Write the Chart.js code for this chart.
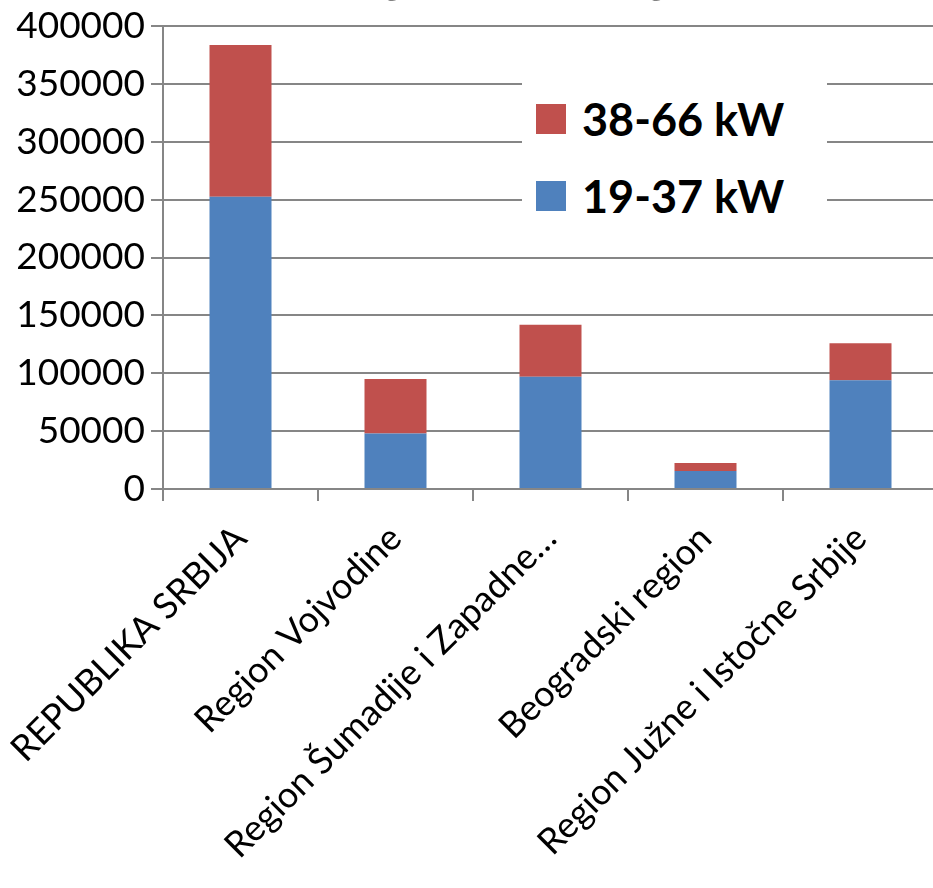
<!DOCTYPE html>
<html>
<head>
<meta charset="utf-8">
<script src="https://cdn.jsdelivr.net/npm/chart.js@4.4.0/dist/chart.umd.min.js"></script>
<style>
  html, body { margin: 0; padding: 0; background: #fff; overflow: hidden; }
  #wrap { position: absolute; left: 0; top: 0; width: 938px; height: 888px; }
  #title {
    position: absolute; left: 0; width: 938px; top: -53px; text-align: center;
    font: bold 46px Lato, sans-serif; color: #000; white-space: nowrap;
  }
  #legend {
    position: absolute; left: 522px; top: 68px; width: 305px; height: 155px;
    background: #fff; font: bold 45px Lato, sans-serif; color: #000;
  }
  .item { position: absolute; left: 14px; height: 44px; display: flex; align-items: center; }
  .box { width: 30px; height: 30px; margin-right: 16px; }
</style>
</head>
<body>
<div id="wrap">
  <canvas id="chart" width="938" height="888"></canvas>
  <div id="title">Holdings by kW range</div>
  <div id="legend"></div>
</div>
<script>
const categories = [
  "REPUBLIKA SRBIJA",
  "Region Vojvodine",
  "Region Šumadije i Zapadne…",
  "Beogradski region",
  "Region Južne i Istočne Srbije"
];
const small = [252500, 48000, 97000, 15500, 94000];   // 19-37 kW
const large = [131000, 47000, 45000, 7000, 32000];    // 38-66 kW
const yTicks = [0, 50000, 100000, 150000, 200000, 250000, 300000, 350000, 400000];

const gray = "#868686";
const font = { family: "Lato, sans-serif", size: 37 };

const chart = new Chart(document.getElementById("chart"), {
  type: "bar",
  data: {
    labels: categories,
    datasets: [
      { label: "19-37 kW", data: small, backgroundColor: "#4F81BD" },
      { label: "38-66 kW", data: large, backgroundColor: "#C0504D" }
    ]
  },
  options: {
    responsive: false,
    animation: false,
    layout: { padding: { top: 26, right: 0, bottom: 0, left: 0 } },
    plugins: { legend: { display: false }, tooltip: { enabled: false } },
    datasets: { bar: { categoryPercentage: 0.8, barPercentage: 0.5 } },
    scales: {
      x: {
        stacked: true,
        grid: { drawOnChartArea: false, color: gray, lineWidth: 2, tickLength: 12 },
        border: { color: gray, width: 2 },
        ticks: { color: "#000", font: { family: "Lato, sans-serif", size: 36 }, autoSkip: false, minRotation: 45, maxRotation: 45, padding: 16 },
        afterFit: (s) => { s.height = 399; s.paddingLeft = 0; s.paddingRight = 0; }
      },
      y: {
        stacked: true,
        min: 0,
        max: 400000,
        afterBuildTicks: (s) => { s.ticks = yTicks.map((v) => ({ value: v })); },
        grid: { color: gray, lineWidth: 2, tickLength: 12 },
        border: { color: gray, width: 2 },
        ticks: { color: "#000", font: font, padding: 6, callback: (v) => String(v) },
        afterFit: (s) => { s.width = 163; s.paddingTop = 0; s.paddingBottom = 0; }
      }
    }
  }
});

// legend, reversed like the original (top series first)
const legendEl = document.getElementById("legend");
chart.data.datasets.slice().reverse().forEach((ds, i) => {
  const item = document.createElement("div");
  item.className = "item";
  item.style.top = (29 + i * 77) + "px";
  item.innerHTML = '<div class="box" style="background:' + ds.backgroundColor + '"></div>' + ds.label;
  legendEl.appendChild(item);
});
</script>
</body>
</html>
